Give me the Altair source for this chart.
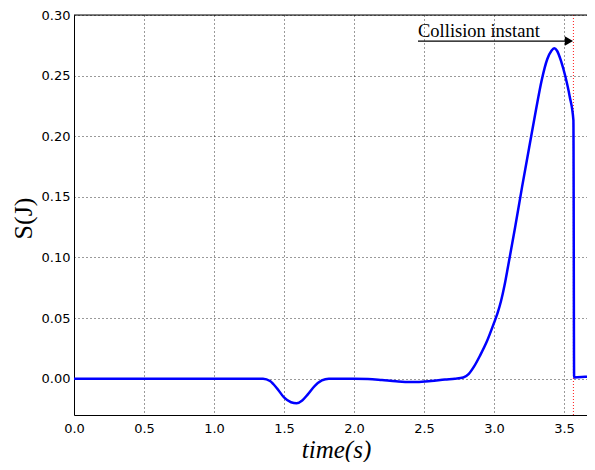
import altair as alt
import pandas as pd

# time (s) and S(J) values
t_vals = [0.0, 0.5, 1.0, 1.30, 1.35, 1.40, 1.45, 1.50, 1.55, 1.59, 1.63, 1.67, 1.72, 1.77, 1.82,
          1.9, 2.0, 2.1, 2.2, 2.3, 2.4, 2.45, 2.55, 2.65, 2.72, 2.78, 2.82, 2.86, 2.90, 2.95,
          3.00, 3.025, 3.05, 3.075, 3.10, 3.15, 3.20, 3.25, 3.30, 3.34, 3.38, 3.41, 3.43, 3.45,
          3.48, 3.51, 3.54, 3.567, 3.572, 3.65, 3.72]
s_vals = [0.0, 0.0, 0.0, 0.0, 0.0, -0.002, -0.008, -0.0155, -0.0195, -0.0203, -0.018, -0.013, -0.006, -0.0015, 0.0,
          0.0, 0.0, -0.0003, -0.0012, -0.0022, -0.0028, -0.0028, -0.002, -0.0007, 0.0, 0.001, 0.004, 0.0105, 0.019, 0.031,
          0.046, 0.054, 0.064, 0.077, 0.0925, 0.1245, 0.158, 0.190, 0.222, 0.246, 0.2635, 0.2705, 0.2725, 0.2705,
          0.2615, 0.249, 0.233, 0.213, 0.001, 0.0015, 0.002]

collision_t = [3.567]
note_text = ["Collision instant"]
note_t = [2.457]
note_s = [0.282]
arrow_t0 = [2.457]
arrow_t1 = [3.53]
arrow_s = [0.2785]
arrow_head_t = [3.535]

x_ticks = [0.0, 0.5, 1.0, 1.5, 2.0, 2.5, 3.0, 3.5]
y_ticks = [0.0, 0.05, 0.10, 0.15, 0.20, 0.25, 0.30]

df = pd.DataFrame({"t": t_vals, "s": s_vals})
df_col = pd.DataFrame({"t": collision_t})
df_note = pd.DataFrame({"t": note_t, "s": note_s, "label": note_text})
df_arrow = pd.DataFrame({"t": arrow_t0, "t2": arrow_t1, "s": arrow_s})
df_head = pd.DataFrame({"t": arrow_head_t, "s": arrow_s})

W = 513
H = 400
xscale = alt.Scale(domain=[0, 3.664], nice=False, zero=False)
yscale = alt.Scale(domain=[-0.03, 0.30], nice=False, zero=False)

x_axis = alt.Axis(values=x_ticks, format=".1f", title="time(s)", grid=True,
                  gridColor="black", gridDash=[1, 3], gridWidth=0.8, gridOpacity=1,
                  ticks=False, domain=True, domainColor="black", domainWidth=1,
                  labelFont="DejaVu Sans", labelFontSize=13,
                  labelColor="black", labelPadding=7, labelFlush=False,
                  titleFont="Liberation Serif", titleFontStyle="italic", titleFontWeight="normal",
                  titleFontSize=25, titleColor="black", titleX=262, titleY=42,
                  titleBaseline="alphabetic", titleAlign="center")
y_axis = alt.Axis(values=y_ticks, format=".2f", title="S(J)", grid=True,
                  gridColor="black", gridDash=[1, 3], gridWidth=0.8, gridOpacity=1,
                  ticks=False, domain=True, domainColor="black", domainWidth=1,
                  labelFont="DejaVu Sans", labelFontSize=13,
                  labelColor="black", labelPadding=4, labelFlush=False,
                  titleFont="Liberation Serif", titleFontWeight="normal",
                  titleFontSize=26, titleColor="black", titleX=-51, titleY=203,
                  titleBaseline="middle", titleAlign="center", titleAngle=270)

base = alt.Chart(df).encode(
    x=alt.X("t:Q", scale=xscale, axis=x_axis),
    y=alt.Y("s:Q", scale=yscale, axis=y_axis),
)
line = base.mark_line(color="#0000ff", strokeWidth=2.5, clip=True, interpolate="monotone")

col = alt.Chart(df_col).mark_rule(color="red", strokeDash=[1, 2], strokeWidth=0.9).encode(
    x=alt.X("t:Q", scale=xscale)
)

# top frame line of the axes box
top_frame = alt.Chart(df_col).mark_rule(color="black", strokeWidth=1).encode(
    x=alt.value(0), x2=alt.value(W), y=alt.value(0)
)

arrow = alt.Chart(df_arrow).mark_rule(color="black", strokeWidth=1.2).encode(
    x=alt.X("t:Q", scale=xscale), x2="t2:Q", y=alt.Y("s:Q", scale=yscale)
)
head = alt.Chart(df_head).mark_point(shape="triangle-right", filled=True, color="black",
                                     size=90, opacity=1).encode(
    x=alt.X("t:Q", scale=xscale), y=alt.Y("s:Q", scale=yscale)
)
note = alt.Chart(df_note).mark_text(align="left", baseline="alphabetic", font="Liberation Serif",
                                    fontSize=18.5, color="black").encode(
    x=alt.X("t:Q", scale=xscale), y=alt.Y("s:Q", scale=yscale), text="label:N"
)

chart = alt.layer(col, line, top_frame, arrow, head, note).properties(
    width=W, height=H,
    autosize=alt.AutoSizeParams(type="none"),
    padding={"left": 66, "top": 7, "right": 0, "bottom": 47},
).configure_view(stroke=None).configure(background="white")

chart.save("out.html", embed_options={"renderer": "svg", "actions": False})
